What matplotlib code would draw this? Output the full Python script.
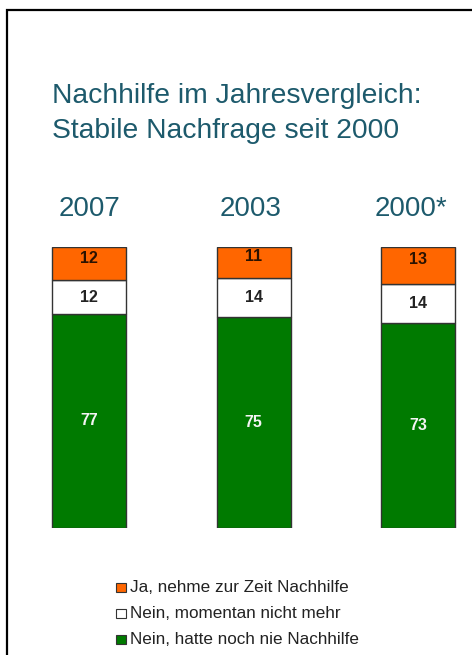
import matplotlib
matplotlib.use("Agg")
import matplotlib.pyplot as plt
from matplotlib.patches import Rectangle
import numpy as np

plt.rcParams['font.family'] = ['Liberation Sans', 'DejaVu Sans']

years = ["2007", "2003", "2000*"]
ja_aktuell = [12, 11, 13]
nein_nicht_mehr = [12, 14, 14]
nein_nie = [77, 75, 73]
legend_labels = ["Ja, nehme zur Zeit Nachhilfe",
                 "Nein, momentan nicht mehr",
                 "Nein, hatte noch nie Nachhilfe"]
title_lines = ["Nachhilfe im Jahresvergleich:", "Stabile Nachfrage seit 2000"]

c_orange = "#FF6600"
c_white = "#FFFFFF"
c_green = "#007A00"
c_title = "#1D5A6C"

W, H = 472, 655
fig = plt.figure(figsize=(W / 100, H / 100), dpi=100)
fig.patch.set_facecolor("white")

# axes placed so bars occupy pixel rows 247..528
ax_bottom = (H - 528) / H
ax_height = (528 - 247) / H
ax = fig.add_axes([0, ax_bottom, 1, ax_height])
ax.set_axis_off()
spacing = 164.5
x0 = 89
ax.set_xlim(-x0 / spacing, (W - x0) / spacing)
ax.set_ylim(0, 100)

x = np.arange(len(years))
ja = np.array(ja_aktuell, float)
nm = np.array(nein_nicht_mehr, float)
nn = np.array(nein_nie, float)
tot = ja + nm + nn
g = nn / tot * 100
w = nm / tot * 100
o = ja / tot * 100

bw = 74 / spacing
ec = "#333333"
ax.bar(x, g, bw, color=c_green, edgecolor=ec, linewidth=1.0)
ax.bar(x, w, bw, bottom=g, color=c_white, edgecolor=ec, linewidth=1.0)
ax.bar(x, o, bw, bottom=g + w, color=c_orange, edgecolor=ec, linewidth=1.0)

lfs = 11.5
for i in range(len(years)):
    ax.text(x[i], g[i] / 2, f"{nein_nie[i]}", ha="center", va="center",
            color="#F4F4F4", fontsize=lfs, fontweight="bold")
    ax.text(x[i], g[i] + w[i] / 2, f"{nein_nicht_mehr[i]}", ha="center", va="center",
            color="#222222", fontsize=lfs, fontweight="bold")
    ax.text(x[i], g[i] + w[i] + o[i] / 2 + 2, f"{ja_aktuell[i]}", ha="center", va="center",
            color="#2a1200", fontsize=lfs, fontweight="bold")
    ax.text(x[i] - 0.02 * i, 100 + (247 - 216) / 2.81, years[i], ha="center", va="baseline",
            color=c_title, fontsize=20, clip_on=False)

# title
fig.text(52 / W, 1 - 103 / H, title_lines[0], ha="left", va="baseline",
         color=c_title, fontsize=20.3)
fig.text(52 / W, 1 - 138 / H, title_lines[1], ha="left", va="baseline",
         color=c_title, fontsize=20.3)

# legend
leg_colors = [c_orange, c_white, c_green]
for k, (lab, col) in enumerate(zip(legend_labels, leg_colors)):
    base = 592 + 26 * k
    fig.patches.append(Rectangle((116 / W, 1 - base / H), 9.5 / W, 9.5 / H,
                                 transform=fig.transFigure, facecolor=col,
                                 edgecolor="#333333", linewidth=0.8))
    fig.text(130 / W, 1 - base / H, lab, ha="left", va="baseline",
             color="#222222", fontsize=12.3)

# frame (extends past right and bottom edge)
fig.patches.append(Rectangle((7 / W, -0.1), 1.2, 1 - 10 / H + 0.1,
                             transform=fig.transFigure, facecolor="none",
                             edgecolor="black", linewidth=1.6, clip_on=False))

fig.savefig("out.png", dpi=100)
